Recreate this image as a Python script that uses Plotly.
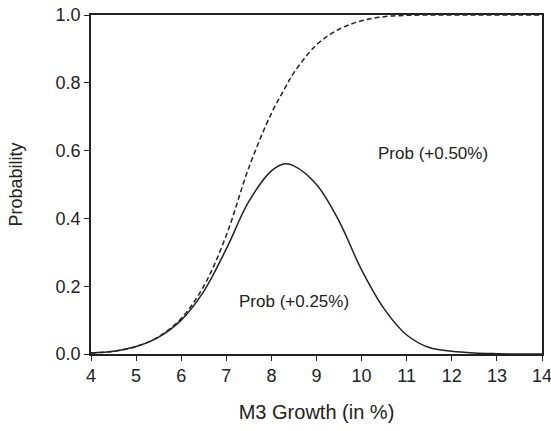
import plotly.graph_objects as go

# Values
x_vals = [4.0, 4.5, 5.0, 5.5, 6.0, 6.5, 7.0, 7.5, 8.0, 8.3, 8.5, 9.0, 9.5, 10.0, 10.5, 11.0, 11.5, 12.0, 12.5, 13.0, 13.5, 14.0]
prob_025 = [0.003, 0.008, 0.022, 0.050, 0.100, 0.185, 0.310, 0.450, 0.540, 0.561, 0.555, 0.500, 0.392, 0.248, 0.133, 0.056, 0.019, 0.008, 0.003, 0.001, 0.0, 0.0]
prob_050 = [0.003, 0.008, 0.022, 0.051, 0.105, 0.200, 0.350, 0.550, 0.710, 0.784, 0.830, 0.912, 0.958, 0.983, 0.995, 0.999, 1.0, 1.0, 1.0, 1.0, 1.0, 1.0]

x_ticks = [4, 5, 6, 7, 8, 9, 10, 11, 12, 13, 14]
y_ticks = [0.0, 0.2, 0.4, 0.6, 0.8, 1.0]

labels = ["Prob (+0.25%)", "Prob (+0.50%)"]
label_x = [8.5, 11.58]
label_y = [0.154, 0.591]

FONT = "Liberation Sans, Arial, sans-serif"

fig = go.Figure()
fig.add_trace(go.Scatter(x=x_vals, y=prob_050, mode="lines", line=dict(color="#222222", width=1.5, dash="5px,3px", shape="spline", smoothing=1.0), showlegend=False, hoverinfo="skip"))
fig.add_trace(go.Scatter(x=x_vals, y=prob_025, mode="lines", line=dict(color="#222222", width=1.5, shape="spline", smoothing=1.0), showlegend=False, hoverinfo="skip"))

for t, lx, ly in zip(labels, label_x, label_y):
    fig.add_annotation(x=lx, y=ly, text=t, showarrow=False, font=dict(family=FONT, size=17, color="#222222"))

axis_common = dict(showgrid=False, zeroline=False, showline=True, linecolor="#222222", linewidth=1.5,
                   mirror=True, ticks="outside", ticklen=5, tickwidth=1.2, tickcolor="#222222",
                   automargin=False,
                   tickfont=dict(family=FONT, size=18, color="#222222"))

fig.update_layout(
    width=560, height=431,
    margin=dict(l=91, r=18, t=15, b=77),
    paper_bgcolor="white", plot_bgcolor="white",
    xaxis=dict(range=[4, 14], tickvals=x_ticks, ticktext=[str(v) for v in x_ticks],
               title=dict(text="M3 Growth (in %)", standoff=20, font=dict(family=FONT, size=20, color="#222222")),
               **axis_common),
    yaxis=dict(range=[0, 1], tickvals=y_ticks, ticktext=[f"{v:.1f}" for v in y_ticks],
               title=dict(text="Probability", standoff=28, font=dict(family=FONT, size=18, color="#222222")),
               **axis_common),
)

fig.write_html("out.html", config={"displayModeBar": False},
               post_script="document.body.style.margin='0';document.body.style.overflow='hidden';")
